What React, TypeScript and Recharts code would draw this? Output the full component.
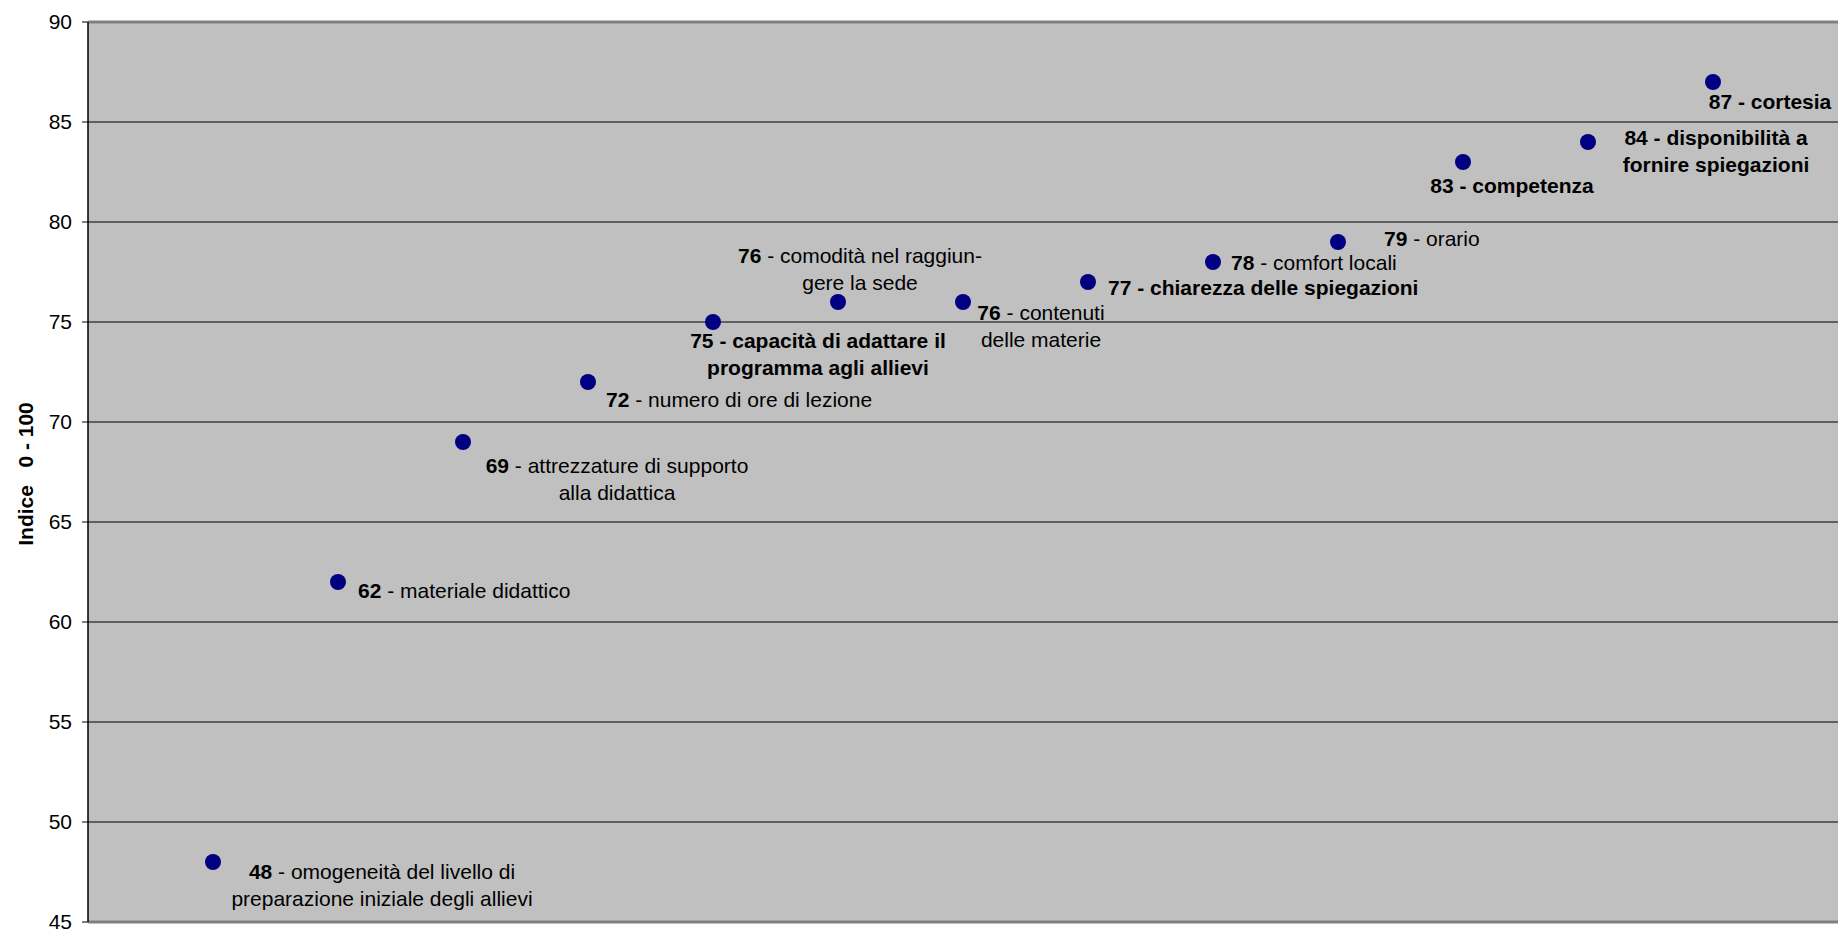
import { CartesianGrid, ReferenceLine, Scatter, ScatterChart, XAxis, YAxis } from "recharts"

// scores, in the order they are plotted (left to right)
const scores = [48, 62, 69, 72, 75, 76, 76, 77, 78, 79, 83, 84, 87]

// item descriptions, one entry per line of the label
const descriptions = [
  ["omogeneità del livello di", "preparazione iniziale degli allievi"],
  ["materiale didattico"],
  ["attrezzature di supporto", "alla didattica"],
  ["numero di ore di lezione"],
  ["capacità di adattare il", "programma agli allievi"],
  ["comodità nel raggiun-", "gere la sede"],
  ["contenuti", "delle materie"],
  ["chiarezza delle spiegazioni"],
  ["comfort locali"],
  ["orario"],
  ["competenza"],
  ["disponibilità a", "fornire spiegazioni"],
  ["cortesia"],
]

// items whose whole label is bold (otherwise only the score is)
const highlighted = [false, false, false, false, true, false, false, true, false, false, true, true, true]

const yTicks = [45, 50, 55, 60, 65, 70, 75, 80, 85, 90]

// where each label sits relative to its dot
const labelPlacement: { anchor: "start" | "middle"; dx: number; dy: number }[] = [
  { anchor: "middle", dx: 169, dy: 10 },
  { anchor: "start", dx: 20, dy: 9 },
  { anchor: "middle", dx: 154, dy: 24 },
  { anchor: "start", dx: 18, dy: 18 },
  { anchor: "middle", dx: 105, dy: 19 },
  { anchor: "middle", dx: 22, dy: -46 },
  { anchor: "middle", dx: 78, dy: 11 },
  { anchor: "start", dx: 20, dy: 6 },
  { anchor: "start", dx: 18, dy: 1 },
  { anchor: "start", dx: 46, dy: -3 },
  { anchor: "middle", dx: 49, dy: 24 },
  { anchor: "middle", dx: 128, dy: -4 },
  { anchor: "middle", dx: 57, dy: 20 },
]

const data = scores.map((score, i) => ({
  pos: i + 1,
  score,
  lines: descriptions[i],
  bold: highlighted[i],
  place: labelPlacement[i],
}))

const FONT = "'Liberation Sans', Arial, sans-serif"
const LINE_HEIGHT = 27

function LabeledDot(props: any) {
  const { cx, cy, payload } = props
  if (cx == null || cy == null) return null
  const { lines, bold, score, place } = payload
  const weight = bold ? "bold" : "normal"
  return (
    <g>
      <circle cx={cx} cy={cy} r={8} fill="#000080" />
      {lines.map((line: string, li: number) => (
        <text
          key={li}
          x={cx + place.dx}
          y={cy + place.dy + li * LINE_HEIGHT + 7}
          textAnchor={place.anchor}
          fontFamily={FONT}
          fontSize={21}
          fill="#000"
        >
          {li === 0 ? (
            <>
              <tspan fontWeight="bold">{score}</tspan>
              <tspan fontWeight={weight}>{` - ${line}`}</tspan>
            </>
          ) : (
            <tspan fontWeight={weight}>{line}</tspan>
          )}
        </text>
      ))}
    </g>
  )
}

function AxisTitle(props: any) {
  const { viewBox } = props
  const x = viewBox.x + 25
  const y = viewBox.y + viewBox.height / 2 + 2
  return (
    <text
      x={x}
      y={y}
      transform={`rotate(-90, ${x}, ${y})`}
      textAnchor="middle"
      dominantBaseline="central"
      fontFamily={FONT}
      fontSize={21}
      fontWeight="bold"
      fill="#000"
      style={{ whiteSpace: "pre" }}
    >
      {"Indice   0 - 100"}
    </text>
  )
}

export default function App() {
  return (
    <div style={{ position: "absolute", left: 0, top: 0, background: "#fff" }}>
      <ScatterChart width={1839} height={932} margin={{ top: 22, right: 1, bottom: 10, left: 0 }}>
        <CartesianGrid vertical={false} stroke="#000" fill="#C0C0C0" fillOpacity={1} />
        <XAxis type="number" dataKey="pos" domain={[0, scores.length + 1]} hide height={0} />
        <YAxis
          type="number"
          dataKey="score"
          domain={[45, 90]}
          ticks={yTicks}
          interval={0}
          width={88}
          allowDataOverflow
          axisLine={{ stroke: "#000", strokeWidth: 1.5 }}
          tickLine={{ stroke: "#000" }}
          tickSize={6}
          tickMargin={10}
          tick={{ fill: "#000", fontSize: 21, fontFamily: FONT }}
          label={(p: any) => <AxisTitle {...p} />}
        />
        <ReferenceLine y={90} stroke="#808080" strokeWidth={3} />
        <ReferenceLine y={45} stroke="#808080" strokeWidth={3} />
        <Scatter data={data} isAnimationActive={false} shape={(p: any) => <LabeledDot {...p} />} />
      </ScatterChart>
    </div>
  )
}
